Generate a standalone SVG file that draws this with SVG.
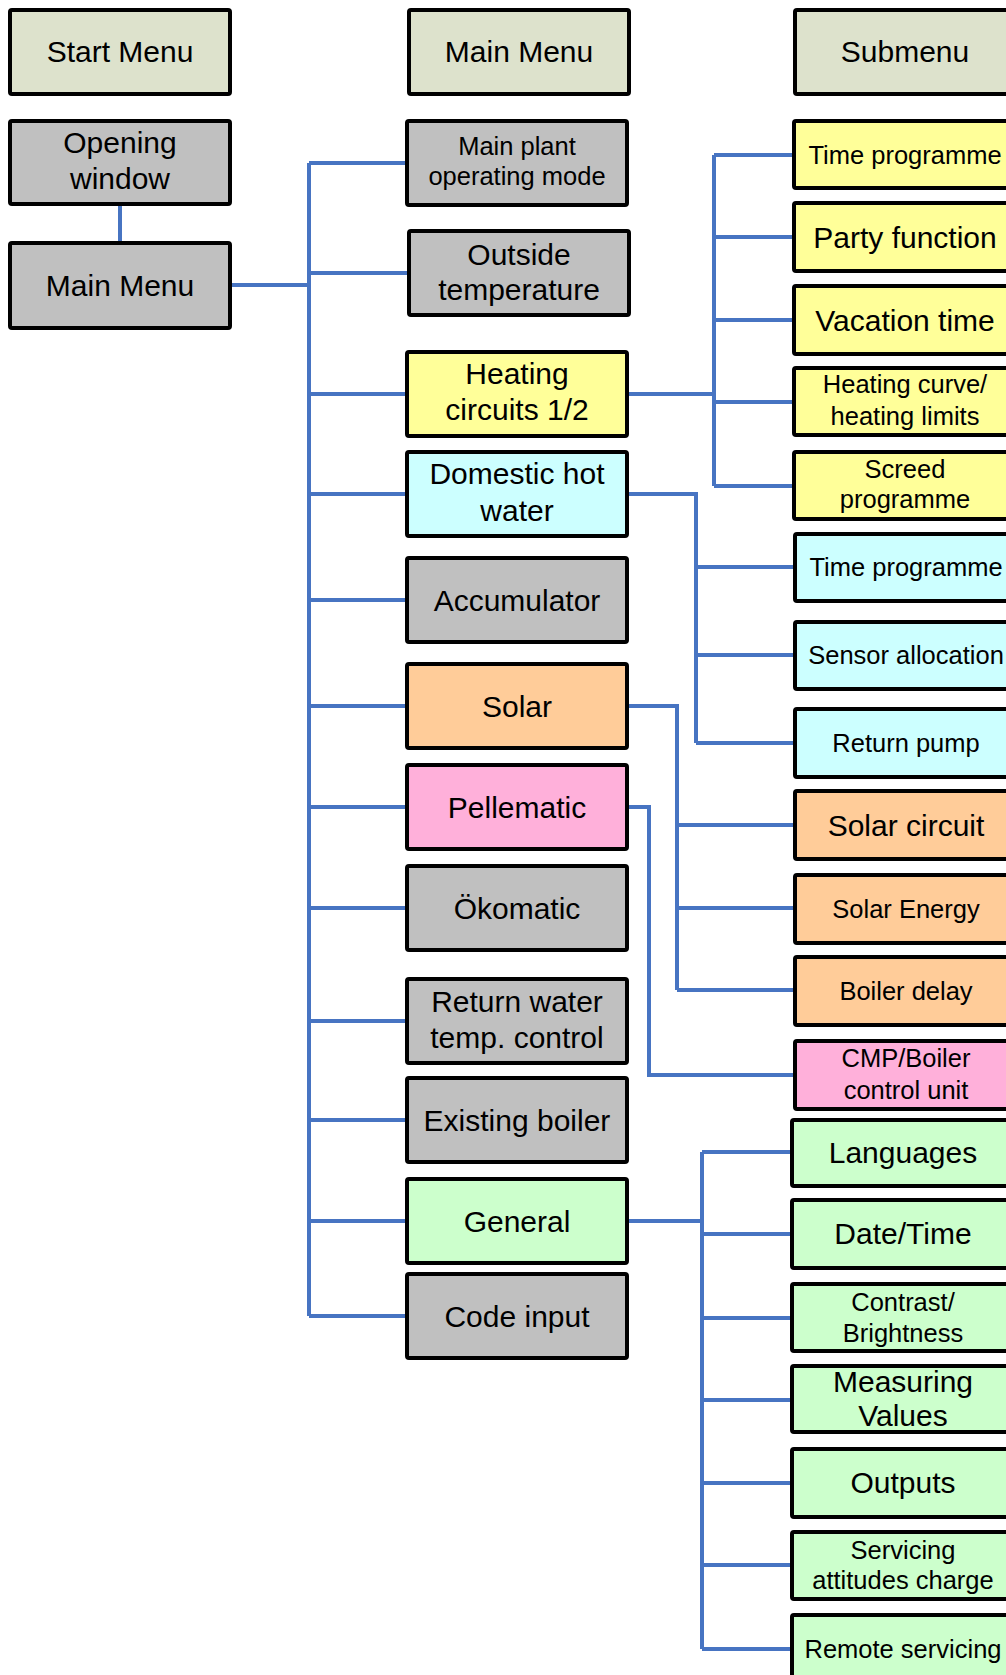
<svg xmlns="http://www.w3.org/2000/svg" width="1006" height="1675" viewBox="0 0 1006 1675">
<style>
rect{stroke:#000;stroke-width:4}
.hd{fill:#dde2cc}.gy{fill:#c0c0c0}.ye{fill:#ffff99}.cy{fill:#ccffff}.or{fill:#ffcc99}.pk{fill:#ffb0da}.gr{fill:#ccffcc}
text{font-family:"Liberation Sans",Arial,sans-serif;fill:#000;text-anchor:middle}
.l{font-size:30px}.s{font-size:25.5px}
#connectors path{fill:none;stroke:#4774c2;stroke-width:4}
</style>
<rect width="1006" height="1675" fill="#fff" style="stroke:none"/>
<g id="connectors">
<path d="M120 204V243M230 285H309M309 163V1316M309 163H407M309 273H409M309 394H407M309 494H407M309 600H407M309 706H407M309 807H407M309 908H407M309 1021H407M309 1120H407M309 1221H407M309 1316H407"/>
<path d="M627 394H714M714 155V486M714 155H794M714 237H794M714 320H794M714 402H794M714 486H794"/>
<path d="M627 494H696V743M696 567H795M696 655H795M696 743H795"/>
<path d="M627 706H677V990M677 825H795M677 908H795M677 990H795"/>
<path d="M627 807H649V1075H795"/>
<path d="M627 1221H702M702 1152V1649M702 1152H792M702 1234H792M702 1318H792M702 1400H792M702 1483H792M702 1565H792M702 1649H792"/>
</g>
<g id="start-menu"><rect class="hd" x="10" y="10" width="220" height="84" rx="2"/><text class="l" x="120" y="62">Start Menu</text></g>
<g id="main-menu-header"><rect class="hd" x="409" y="10" width="220" height="84" rx="2"/><text class="l" x="519" y="62">Main Menu</text></g>
<g id="submenu-header"><rect class="hd" x="795" y="10" width="222" height="84" rx="2"/><text class="l" x="905" y="62">Submenu</text></g>
<g id="opening-window"><rect class="gy" x="10" y="121" width="220" height="83" rx="2"/><text class="l" x="120" y="153">Opening</text><text class="l" x="120" y="189">window</text></g>
<g id="main-menu"><rect class="gy" x="10" y="243" width="220" height="85" rx="2"/><text class="l" x="120" y="296">Main Menu</text></g>
<g id="main-plant"><rect class="gy" x="407" y="121" width="220" height="84" rx="2"/><text class="s" x="517" y="155">Main plant</text><text class="s" x="517" y="185">operating mode</text></g>
<g id="outside-temp"><rect class="gy" x="409" y="231" width="220" height="84" rx="2"/><text class="l" x="519" y="265">Outside</text><text class="l" x="519" y="300">temperature</text></g>
<g id="heating-circuits"><rect class="ye" x="407" y="352" width="220" height="84" rx="2"/><text class="l" x="517" y="384">Heating</text><text class="l" x="517" y="420">circuits 1/2</text></g>
<g id="dhw"><rect class="cy" x="407" y="452" width="220" height="84" rx="2"/><text class="l" x="517" y="484">Domestic hot</text><text class="l" x="517" y="521">water</text></g>
<g id="accumulator"><rect class="gy" x="407" y="558" width="220" height="84" rx="2"/><text class="l" x="517" y="611">Accumulator</text></g>
<g id="solar"><rect class="or" x="407" y="664" width="220" height="84" rx="2"/><text class="l" x="517" y="717">Solar</text></g>
<g id="pellematic"><rect class="pk" x="407" y="765" width="220" height="84" rx="2"/><text class="l" x="517" y="818">Pellematic</text></g>
<g id="okomatic"><rect class="gy" x="407" y="866" width="220" height="84" rx="2"/><text class="l" x="517" y="919">Ökomatic</text></g>
<g id="return-water"><rect class="gy" x="407" y="979" width="220" height="84" rx="2"/><text class="l" x="517" y="1012">Return water</text><text class="l" x="517" y="1048">temp. control</text></g>
<g id="existing-boiler"><rect class="gy" x="407" y="1078" width="220" height="84" rx="2"/><text class="l" x="517" y="1131">Existing boiler</text></g>
<g id="general"><rect class="gr" x="407" y="1179" width="220" height="84" rx="2"/><text class="l" x="517" y="1232">General</text></g>
<g id="code-input"><rect class="gy" x="407" y="1274" width="220" height="84" rx="2"/><text class="l" x="517" y="1327">Code input</text></g>
<g id="hc-time-programme"><rect class="ye" x="794" y="121" width="222" height="67" rx="2"/><text class="s" x="905" y="164">Time programme</text></g>
<g id="party-function"><rect class="ye" x="794" y="203" width="222" height="68" rx="2"/><text class="l" x="905" y="248">Party function</text></g>
<g id="vacation-time"><rect class="ye" x="794" y="286" width="222" height="68" rx="2"/><text class="l" x="905" y="331">Vacation time</text></g>
<g id="heating-curve"><rect class="ye" x="794" y="368" width="222" height="67" rx="2"/><text class="s" x="905" y="393">Heating curve/</text><text class="s" x="905" y="425">heating limits</text></g>
<g id="screed"><rect class="ye" x="794" y="452" width="222" height="67" rx="2"/><text class="s" x="905" y="478">Screed</text><text class="s" x="905" y="508">programme</text></g>
<g id="dhw-time-programme"><rect class="cy" x="795" y="534" width="222" height="67" rx="2"/><text class="s" x="906" y="576">Time programme</text></g>
<g id="sensor-allocation"><rect class="cy" x="795" y="622" width="222" height="67" rx="2"/><text class="s" x="906" y="664">Sensor allocation</text></g>
<g id="return-pump"><rect class="cy" x="795" y="709" width="222" height="68" rx="2"/><text class="s" x="906" y="752">Return pump</text></g>
<g id="solar-circuit"><rect class="or" x="795" y="791" width="222" height="68" rx="2"/><text class="l" x="906" y="836">Solar circuit</text></g>
<g id="solar-energy"><rect class="or" x="795" y="875" width="222" height="68" rx="2"/><text class="s" x="906" y="918">Solar Energy</text></g>
<g id="boiler-delay"><rect class="or" x="795" y="957" width="222" height="68" rx="2"/><text class="s" x="906" y="1000">Boiler delay</text></g>
<g id="cmp-boiler"><rect class="pk" x="795" y="1041" width="222" height="68" rx="2"/><text class="s" x="906" y="1067">CMP/Boiler</text><text class="s" x="906" y="1099">control unit</text></g>
<g id="languages"><rect class="gr" x="792" y="1120" width="222" height="66" rx="2"/><text class="l" x="903" y="1163">Languages</text></g>
<g id="date-time"><rect class="gr" x="792" y="1200" width="222" height="68" rx="2"/><text class="l" x="903" y="1244">Date/Time</text></g>
<g id="contrast"><rect class="gr" x="792" y="1284" width="222" height="67" rx="2"/><text class="s" x="903" y="1311">Contrast/</text><text class="s" x="903" y="1342">Brightness</text></g>
<g id="measuring"><rect class="gr" x="792" y="1366" width="222" height="66" rx="2"/><text class="l" x="903" y="1392">Measuring</text><text class="l" x="903" y="1426">Values</text></g>
<g id="outputs"><rect class="gr" x="792" y="1449" width="222" height="68" rx="2"/><text class="l" x="903" y="1493">Outputs</text></g>
<g id="servicing"><rect class="gr" x="792" y="1532" width="222" height="67" rx="2"/><text class="s" x="903" y="1559">Servicing</text><text class="s" x="903" y="1589">attitudes charge</text></g>
<g id="remote-servicing"><rect class="gr" x="792" y="1615" width="222" height="80" rx="2"/><text class="s" x="903" y="1658">Remote servicing</text></g>
</svg>
